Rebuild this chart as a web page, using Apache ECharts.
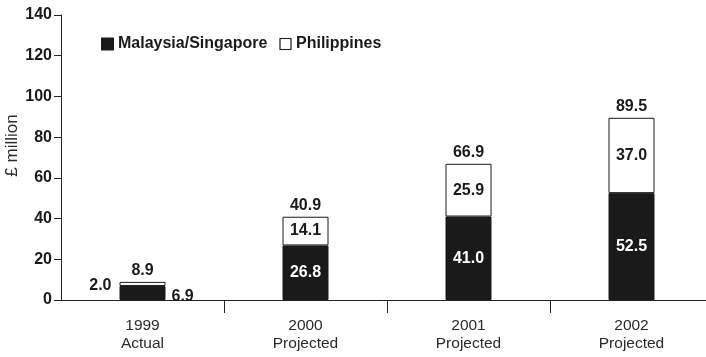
<!DOCTYPE html>
<html>
<head>
<meta charset="utf-8">
<script src="https://cdn.jsdelivr.net/npm/echarts@6/dist/echarts.min.js"></script>
<style>html,body{margin:0;padding:0;background:#fff}#c{width:706px;height:357px}</style>
</head>
<body>
<div id="c"></div>
<script>
var categories = ['1999\nActual', '2000\nProjected', '2001\nProjected', '2002\nProjected'];
var malaysiaSingapore = [6.9, 26.8, 41.0, 52.5];
var philippines = [2.0, 14.1, 25.9, 37.0];
var totals = [8.9, 40.9, 66.9, 89.5];
var yTicks = [0, 20, 40, 60, 80, 100, 120, 140];

var FONT = 'Liberation Sans, Arial, sans-serif';
var chart = echarts.init(document.getElementById('c'), null, {renderer: 'canvas'});

var msData = malaysiaSingapore.map(function (v, i) {
  if (i === 0) {
    return {value: v, label: {position: 'right', color: '#1a1a1a', offset: [2, 4], distance: 4}};
  }
  return v;
});
var phData = philippines.map(function (v, i) {
  if (i === 0) {
    return {value: v, label: {position: 'left', color: '#1a1a1a', offset: [-4, 2], distance: 4}};
  }
  return v;
});

chart.setOption({
  animation: false,
  backgroundColor: '#fff',
  textStyle: {fontFamily: FONT},
  grid: {left: 61, right: -7, top: 15, bottom: 57, containLabel: false, outerBoundsMode: 'none'},
  legend: {
    left: 96, top: 31, itemWidth: 11, itemHeight: 11, itemGap: 12,
    textStyle: {fontFamily: FONT, fontWeight: 'bold', fontSize: 16, color: '#1a1a1a'},
    data: [
      {name: 'Malaysia/Singapore', icon: 'rect'},
      {name: 'Philippines', icon: 'rect', itemStyle: {color: '#fff', borderColor: '#1a1a1a', borderWidth: 1.2}}
    ]
  },
  xAxis: {
    type: 'category',
    data: categories,
    boundaryGap: true,
    axisLine: {lineStyle: {color: '#222', width: 1}},
    axisTick: {show: true, inside: false, length: 13, lineStyle: {color: '#222'},
      interval: function (index) { return index !== 0; }},
    axisLabel: {fontFamily: FONT, fontSize: 15.5, color: '#2a2a2a', margin: 17, lineHeight: 18, interval: 0}
  },
  yAxis: {
    type: 'value',
    min: yTicks[0], max: yTicks[yTicks.length - 1], interval: 20,
    name: '£ million',
    nameLocation: 'middle',
    nameGap: 40,
    nameMoveOverlap: false,
    nameTextStyle: {fontFamily: FONT, fontSize: 17, color: '#2a2a2a', padding: [0, 0, 0, 24]},
    axisLine: {show: true, lineStyle: {color: '#222', width: 1}},
    axisTick: {show: true, length: 7, lineStyle: {color: '#222'}},
    axisLabel: {fontFamily: FONT, fontWeight: 'bold', fontSize: 16, color: '#1a1a1a', margin: 9},
    splitLine: {show: false}
  },
  series: [
    {
      name: 'Malaysia/Singapore', type: 'bar', stack: 'total', barWidth: 46,
      data: msData,
      itemStyle: {color: '#1a1a1a', borderColor: '#1a1a1a', borderWidth: 1},
      label: {show: true, position: 'inside', color: '#fff', fontFamily: FONT, fontWeight: 'bold', fontSize: 16,
        formatter: function (p) { return p.value.toFixed(1); }}
    },
    {
      name: 'Philippines', type: 'bar', stack: 'total', barWidth: 46,
      data: phData,
      itemStyle: {color: '#fff', borderColor: '#1a1a1a', borderWidth: 1},
      label: {show: true, position: 'inside', color: '#1a1a1a', fontFamily: FONT, fontWeight: 'bold', fontSize: 16,
        formatter: function (p) { return p.value.toFixed(1); }}
    },
    {
      name: 'Total', type: 'bar', barWidth: 46, barGap: '-100%', z: 1,
      data: totals,
      itemStyle: {color: 'rgba(0,0,0,0)'},
      label: {show: true, position: 'top', distance: 3, color: '#1a1a1a', fontFamily: FONT, fontWeight: 'bold', fontSize: 16,
        formatter: function (p) { return p.value.toFixed(1); }},
      tooltip: {show: false}
    }
  ]
});
</script>
</body>
</html>
